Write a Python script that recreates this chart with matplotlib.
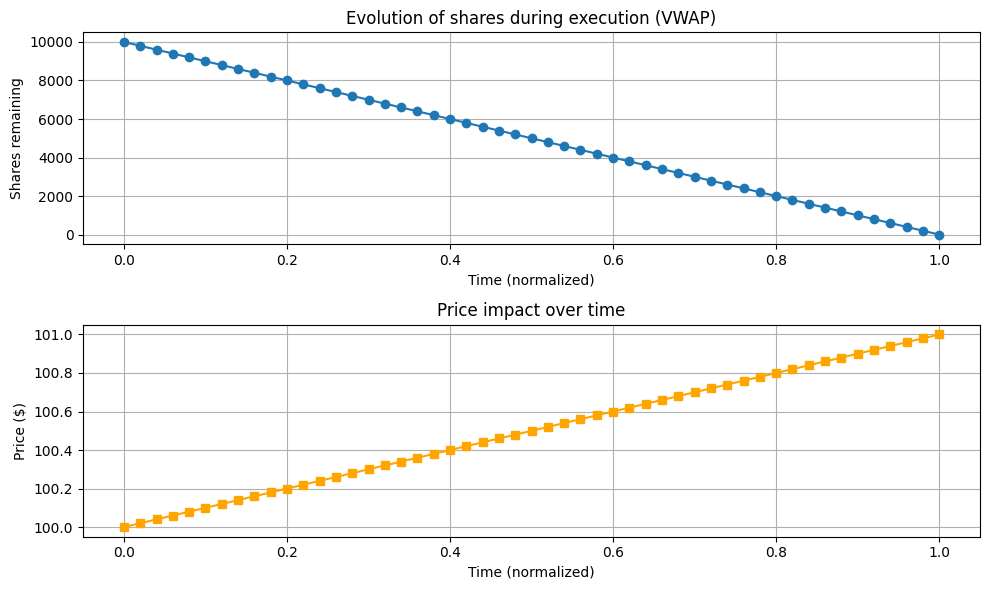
import matplotlib
matplotlib.use('AGG')
import matplotlib.pyplot as plt

# values
time = [0.00, 0.02, 0.04, 0.06, 0.08, 0.10, 0.12, 0.14, 0.16, 0.18,
        0.20, 0.22, 0.24, 0.26, 0.28, 0.30, 0.32, 0.34, 0.36, 0.38,
        0.40, 0.42, 0.44, 0.46, 0.48, 0.50, 0.52, 0.54, 0.56, 0.58,
        0.60, 0.62, 0.64, 0.66, 0.68, 0.70, 0.72, 0.74, 0.76, 0.78,
        0.80, 0.82, 0.84, 0.86, 0.88, 0.90, 0.92, 0.94, 0.96, 0.98,
        1.00]
shares = [10000, 9800, 9600, 9400, 9200, 9000, 8800, 8600, 8400, 8200,
          8000, 7800, 7600, 7400, 7200, 7000, 6800, 6600, 6400, 6200,
          6000, 5800, 5600, 5400, 5200, 5000, 4800, 4600, 4400, 4200,
          4000, 3800, 3600, 3400, 3200, 3000, 2800, 2600, 2400, 2200,
          2000, 1800, 1600, 1400, 1200, 1000, 800, 600, 400, 200,
          0]
price = [100.00, 100.02, 100.04, 100.06, 100.08, 100.10, 100.12, 100.14, 100.16, 100.18,
         100.20, 100.22, 100.24, 100.26, 100.28, 100.30, 100.32, 100.34, 100.36, 100.38,
         100.40, 100.42, 100.44, 100.46, 100.48, 100.50, 100.52, 100.54, 100.56, 100.58,
         100.60, 100.62, 100.64, 100.66, 100.68, 100.70, 100.72, 100.74, 100.76, 100.78,
         100.80, 100.82, 100.84, 100.86, 100.88, 100.90, 100.92, 100.94, 100.96, 100.98,
         101.00]

fig, (ax1, ax2) = plt.subplots(2, 1, figsize=(10, 6), dpi=100)

ax1.plot(time, shares, 'o-', color='#1f77b4')
ax1.set_title('Evolution of shares during execution (VWAP)')
ax1.set_xlabel('Time (normalized)')
ax1.set_ylabel('Shares remaining')
ax1.grid(True)

ax2.plot(time, price, 's-', color='orange')
ax2.set_title('Price impact over time')
ax2.set_xlabel('Time (normalized)')
ax2.set_ylabel('Price ($)')
ax2.grid(True)

plt.tight_layout()
plt.savefig('out.png', bbox_inches='tight')
plt.close()
